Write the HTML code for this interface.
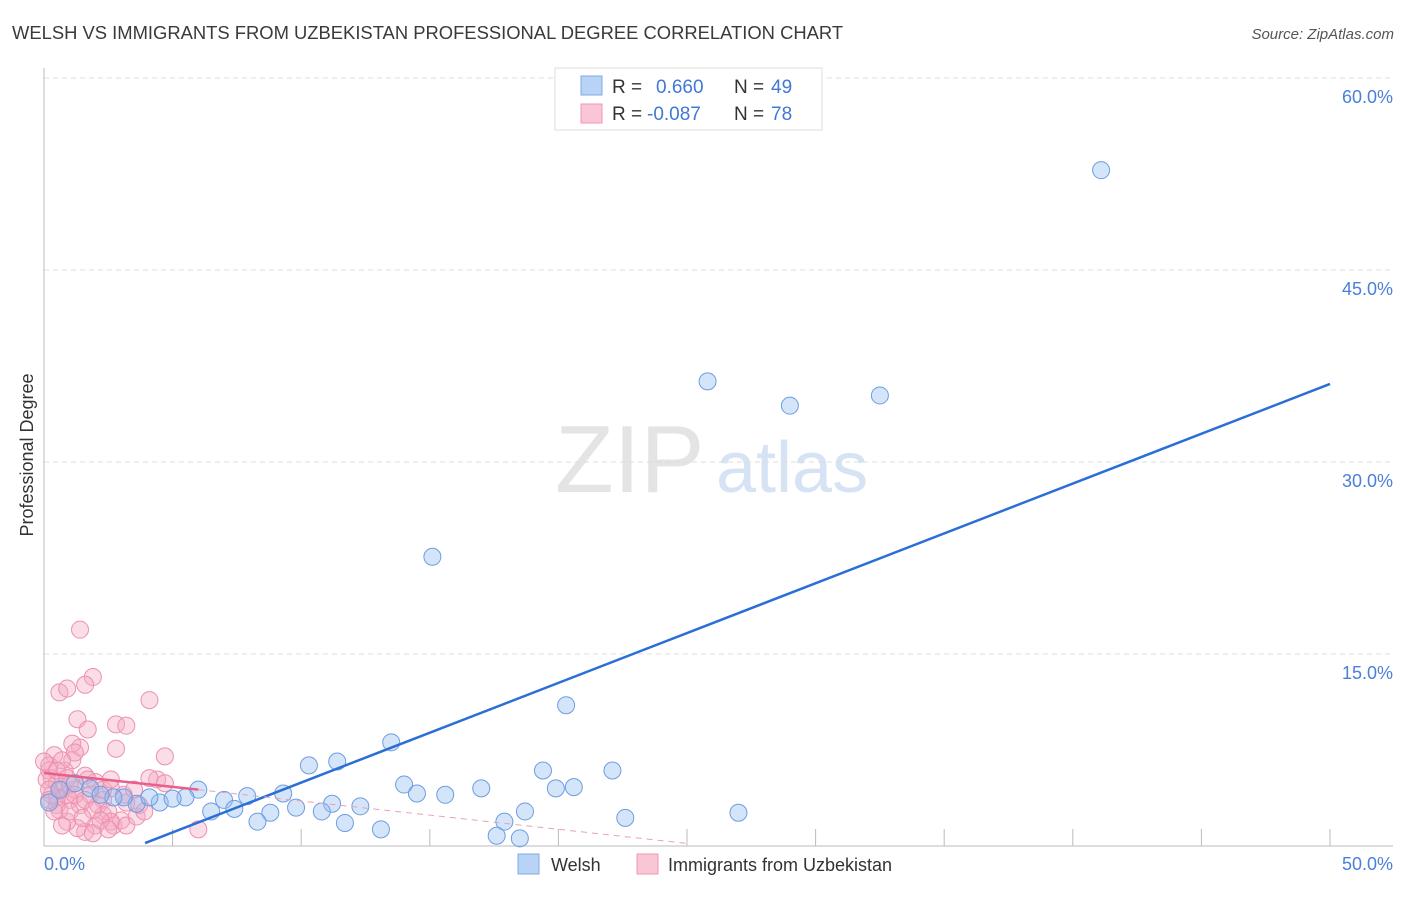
<!DOCTYPE html>
<html><head><meta charset="utf-8"><style>
body{margin:0;background:#fff;font-family:"Liberation Sans",sans-serif;}
svg text{font-family:"Liberation Sans",sans-serif;}
</style></head><body>
<svg id="chart" width="1406" height="892" xmlns="http://www.w3.org/2000/svg">
<text x="12" y="39" font-size="18.4" fill="#3a3a3a">WELSH VS IMMIGRANTS FROM UZBEKISTAN PROFESSIONAL DEGREE CORRELATION CHART</text>
<text x="1394" y="39" font-size="15" fill="#555" font-style="italic" text-anchor="end">Source: ZipAtlas.com</text>
<g>
<text x="555" y="492" font-size="96" font-family="Liberation Serif" fill="#e4e4e4">ZIP</text>
<text x="716" y="492" font-size="72" fill="#d6e3f5">atlas</text>
</g>
<g id="grid"></g>
<g id="axes"></g>
<g id="marks"></g>
<text transform="translate(33,455) rotate(-90)" font-size="18" fill="#333" text-anchor="middle">Professional Degree</text>
<g>
<rect x="555" y="68" width="267" height="62" fill="#fff" stroke="#ddd"/>
<rect x="581" y="76" width="21" height="19" fill="#b8d3f5" stroke="#7fa9e6"/>
<rect x="581" y="104" width="21" height="19" fill="#fac6d6" stroke="#ec9ab4"/>
<text x="612" y="93" font-size="19" fill="#333">R =</text><text x="656" y="93" font-size="19" fill="#3f78d6">0.660</text>
<text x="734" y="93" font-size="19" fill="#333">N =</text><text x="771" y="93" font-size="19" fill="#3f78d6">49</text>
<text x="612" y="120" font-size="19" fill="#333">R =</text><text x="647" y="120" font-size="19" fill="#3f78d6">-0.087</text>
<text x="734" y="120" font-size="19" fill="#333">N =</text><text x="771" y="120" font-size="19" fill="#3f78d6">78</text>
</g>
<g>
<rect x="518" y="854" width="21" height="20" fill="#b8d3f5" stroke="#7fa9e6"/>
<text x="551" y="871" font-size="18" fill="#333">Welsh</text>
<rect x="637" y="854" width="21" height="20" fill="#fac6d6" stroke="#ec9ab4"/>
<text x="668" y="871" font-size="18" fill="#333">Immigrants from Uzbekistan</text>
</g>
</svg>
<script>
const xTicks=[0,5,10,15,20,25,30,35,40,45,50];
const yTicks=[15,30,45,60];
const yTickLabels=["15.0%","30.0%","45.0%","60.0%"];
const welshX=[41.1,25.8,29.0,32.5,15.1,20.3,13.5,10.3,11.4,22.1,19.4,14.0,17.0,19.9,20.6,14.5,15.6,6.0,5.5,7.9,9.3,7.0,4.5,5.0,3.6,3.1,2.7,6.5,7.4,8.8,9.8,11.2,12.3,10.8,8.3,11.7,13.1,17.9,18.7,22.6,27.0,17.6,18.5,0.2,1.2,1.8,2.2,0.6,4.1];
const welshY=[52.8,36.3,34.4,35.2,22.6,11.0,8.1,6.3,6.6,5.9,5.9,4.8,4.5,4.5,4.6,4.1,4.0,4.4,3.8,3.9,4.1,3.6,3.4,3.7,3.3,3.8,3.8,2.7,2.9,2.6,3.0,3.3,3.1,2.7,1.9,1.8,1.3,1.9,2.7,2.2,2.6,0.8,0.6,3.4,4.9,4.5,4.0,4.4,3.8];
const uzbX=[1.4,1.9,0.6,0.9,1.6,4.1,1.3,1.7,2.8,3.2,1.4,1.1,2.8,4.7,4.4,4.1,4.7,3.2,2.6,2.3,1.6,2.0,0.4,0.2,0.2,0.3,0.5,0.7,0.9,1.0,0.5,0.8,1.1,1.2,1.7,1.8,2.1,2.3,2.5,2.7,3.0,2.0,1.6,1.3,0.9,0.7,1.9,2.6,3.2,3.6,6.0,0.5,0.1,0.3,0.6,1.2,1.4,0.7,0.0,0.2,0.5,0.9,1.0,1.2,1.6,1.9,2.3,2.6,3.1,3.5,3.7,3.9,2.2,2.5,0.4,0.2,1.0,1.5];
const uzbY=[16.9,13.2,12.0,12.3,12.6,11.4,9.9,9.1,9.5,9.4,7.7,8.0,7.6,7.0,5.2,5.3,4.9,3.4,4.5,3.6,5.5,5.0,7.1,6.3,5.9,5.3,4.9,4.4,4.0,3.6,3.2,5.9,6.7,7.3,5.2,4.0,3.2,2.4,2.7,1.6,2.0,1.6,1.1,1.4,1.9,1.6,1.0,1.9,1.6,2.3,1.3,3.8,5.2,4.0,2.8,4.4,3.2,6.7,6.6,4.4,5.9,5.3,4.8,4.0,3.6,2.8,4.4,5.2,4.0,4.4,3.2,2.7,2.0,1.3,2.7,3.6,2.7,2.2];
const welshTrend=[3.93,0.23,50,36.1];
const uzbTrend=[0,5.7,6,4.4,25,0.2];

const NS="http://www.w3.org/2000/svg";
const X0=44,X1=1330,Y0=846,YS=12.8;
const sx=v=>X0+(v/50)*(X1-X0);
const sy=v=>Y0-v*YS;
function mk(tag,attrs,parent){const e=document.createElementNS(NS,tag);for(const k in attrs)e.setAttribute(k,attrs[k]);parent.appendChild(e);return e;}
const grid=document.getElementById('grid'),axes=document.getElementById('axes'),marks=document.getElementById('marks');
yTicks.forEach((t,i)=>{
  const l=mk('line',{x1:X0,x2:1393,y1:sy(t),y2:sy(t),stroke:'#ddd','stroke-dasharray':'5,4'},grid);
  
  
  const tx=mk('text',{x:1393,y:sy(t)+25,'font-size':18,fill:'#4a7fd8','text-anchor':'end'},axes);
  tx.textContent=yTickLabels[i];
  
  
});
const ax=mk('line',{x1:X0,x2:X0,y1:68,y2:846,stroke:'#bbb'},axes);


const bx=mk('line',{x1:X0,x2:1393,y1:846,y2:846,stroke:'#bbb'},axes);


xTicks.slice(1).forEach(t=>{
  const l=mk('line',{x1:sx(t),x2:sx(t),y1:829,y2:846,stroke:'#bbb'},axes);
  
  
});
const xl0=mk('text',{x:44,y:870,'font-size':18,fill:'#4a7fd8'},axes);xl0.textContent='0.0%';


const xl1=mk('text',{x:1393,y:870,'font-size':18,fill:'#4a7fd8','text-anchor':'end'},axes);xl1.textContent='50.0%';


uzbX.forEach((v,i)=>{
  const c=mk('circle',{cx:sx(v),cy:sy(uzbY[i]),r:8.5,fill:'rgba(246,170,196,0.4)',stroke:'#ec90ae','stroke-width':1},marks);
  
  
});
welshX.forEach((v,i)=>{
  const c=mk('circle',{cx:sx(v),cy:sy(welshY[i]),r:8.5,fill:'rgba(150,190,240,0.4)',stroke:'#6c9de2','stroke-width':1},marks);
  
  
});
const wt=mk('line',{x1:sx(welshTrend[0]),y1:sy(welshTrend[1]),x2:sx(welshTrend[2]),y2:sy(welshTrend[3]),stroke:'#2a6fd6','stroke-width':2.5},marks);


const ut=mk('line',{x1:sx(uzbTrend[0]),y1:sy(uzbTrend[1]),x2:sx(uzbTrend[2]),y2:sy(uzbTrend[3]),stroke:'#e8608a','stroke-width':2.5},marks);


const ud=mk('line',{x1:sx(uzbTrend[2]),y1:sy(uzbTrend[3]),x2:sx(uzbTrend[4]),y2:sy(uzbTrend[5]),stroke:'#e8a0b8','stroke-width':1,'stroke-dasharray':'6,5'},marks);


</script>
</body></html>
